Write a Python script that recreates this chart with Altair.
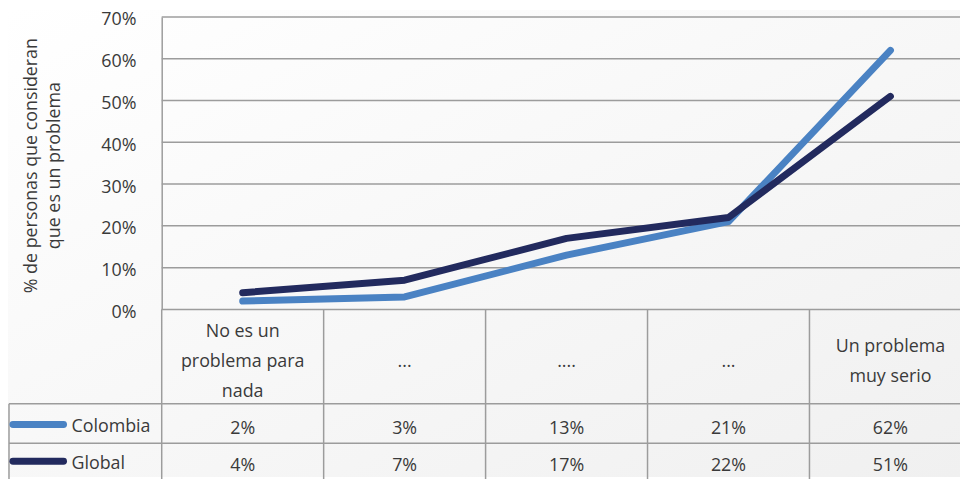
import altair as alt
import pandas as pd

# ---- data ----
categories = ["No es un\nproblema para\nnada", "...", "....", "...", "Un problema\nmuy serio"]
colombia = [2, 3, 13, 21, 62]
global_vals = [4, 7, 17, 22, 51]
series_names = ["Colombia", "Global"]
series_colors = ["#4A82C3", "#222A5E"]
y_ticks = [0, 10, 20, 30, 40, 50, 60, 70]
y_title = ["% de personas que consideran", "que es un problema"]

# ---- layout ----
W, H = 805, 295
COL_W = 163.3
X_MAX = W / COL_W
FONT = "Open Sans"
FS = 18
TXT = "#3a3a3a"
GRID = "#9c9c9c"
HEADER_MID = 348
LINE_H = 30

df = pd.DataFrame({"idx": list(range(len(categories))), "cat": categories})
df["pos"] = df["idx"] + 0.5

# explode header labels into individual lines
rows = []
for i, c in enumerate(categories):
    parts = c.split("\n")
    n = len(parts)
    for k, p in enumerate(parts):
        rows.append({"pos": i + 0.5, "txt": p, "slot": k - (n - 1) / 2})
hdr = pd.DataFrame(rows)

def series_df(name, vals):
    d = df.copy()
    d["value"] = vals
    d["series"] = name
    d["label"] = [f"{v}%" for v in vals]
    return d

d_col = series_df("Colombia", colombia)
d_glo = series_df("Global", global_vals)
bounds = pd.DataFrame({"b": list(range(len(categories)))})
ticks_df = pd.DataFrame({"value": y_ticks})

xs = alt.Scale(domain=[0, X_MAX], nice=False, zero=False)
ys = alt.Scale(domain=[0, 70], nice=False, zero=True)

X = alt.X("pos:Q", scale=xs, axis=None)

y_axis = alt.Axis(values=y_ticks, labelExpr="datum.value + '%'", grid=False,
                  domain=True, domainColor=GRID, zindex=2,
                  domainWidth=1.5, ticks=False, labelPadding=26, labelOffset=3,
                  labelFont=FONT, labelFontSize=FS, labelColor=TXT,
                  title=y_title, titleFont=FONT, titleFontSize=FS, titleFontWeight="normal",
                  titleColor=TXT, titleAngle=270, titleX=-131, titleY=H / 2 + 2,
                  titleAlign="center", titleBaseline="middle", titleLineHeight=23)
Y = alt.Y("value:Q", scale=ys, axis=y_axis)

bg = alt.Chart(pd.DataFrame({"a": [0]})).mark_rect(
    fill=alt.Gradient(gradient="linear", x1=0, y1=0, x2=1, y2=1,
                      stops=[alt.GradientStop(color="#ffffff", offset=0),
                             alt.GradientStop(color="#f0f0f0", offset=1)])
).encode(x=alt.value(-155), x2=alt.value(W), y=alt.value(-7), y2=alt.value(H + 169))

grid = alt.Chart(ticks_df).mark_rule(color=GRID, strokeWidth=1.5).encode(
    y=Y, x=alt.value(0), x2=alt.value(W))

line_col = alt.Chart(d_col).mark_line(strokeWidth=7, strokeCap="round", strokeJoin="round",
                                      color=series_colors[0]).encode(x=X, y=Y)
line_glo = alt.Chart(d_glo).mark_line(strokeWidth=7, strokeCap="round", strokeJoin="round",
                                      color=series_colors[1]).encode(x=X, y=Y)

# table grid lines
vlines = alt.Chart(bounds).mark_rule(color=GRID, strokeWidth=1.5).encode(
    x=alt.X("b:Q", scale=xs, axis=None), y=alt.value(H), y2=alt.value(H + 180))

def hrule(yp, x0):
    return alt.Chart(pd.DataFrame({"a": [0]})).mark_rule(color=GRID, strokeWidth=1.5).encode(
        x=alt.value(x0), x2=alt.value(W), y=alt.value(yp))

ROW1, ROW2 = 390, 430
left_x = -154
h1 = hrule(ROW1, left_x)
h2 = hrule(ROW2, left_x)
lborder = alt.Chart(pd.DataFrame({"a": [0]})).mark_rule(color=GRID, strokeWidth=1.5).encode(
    x=alt.value(left_x), y=alt.value(ROW1), y2=alt.value(H + 180))

layers = [bg, grid, line_col, line_glo, vlines, h1, h2, lborder]

for s in sorted(hdr["slot"].unique()):
    layers.append(alt.Chart(hdr).transform_filter(f"datum.slot == {s}").mark_text(
        font=FONT, fontSize=FS, color=TXT, baseline="middle", align="center").encode(
        x=X, y=alt.value(HEADER_MID + s * LINE_H), text="txt:N"))

row_y = [416, 453]
for d, yv, name, colr in zip([d_col, d_glo], row_y, series_names, series_colors):
    layers.append(alt.Chart(d).mark_text(font=FONT, fontSize=FS, color=TXT,
                                         baseline="middle", align="center").encode(
        x=X, y=alt.value(yv), text="label:N"))
    one = pd.DataFrame({"series": [name]})
    layers.append(alt.Chart(one).mark_rule(strokeWidth=7, strokeCap="round", color=colr).encode(
        x=alt.value(-150), x2=alt.value(-99), y=alt.value(yv - 5)))
    layers.append(alt.Chart(one).mark_text(font=FONT, fontSize=FS, color=TXT,
                                           baseline="middle", align="left").encode(
        x=alt.value(-91), y=alt.value(yv - 2), text="series:N"))

chart = alt.layer(*layers).properties(
    width=W, height=H,
    autosize=alt.AutoSizeParams(type="none"),
    padding={"left": 155, "top": 7, "right": 0, "bottom": 169},
    background="#ffffff",
).configure_view(stroke=None)

chart.save("out.html", embed_options={"renderer": "svg", "actions": False})
